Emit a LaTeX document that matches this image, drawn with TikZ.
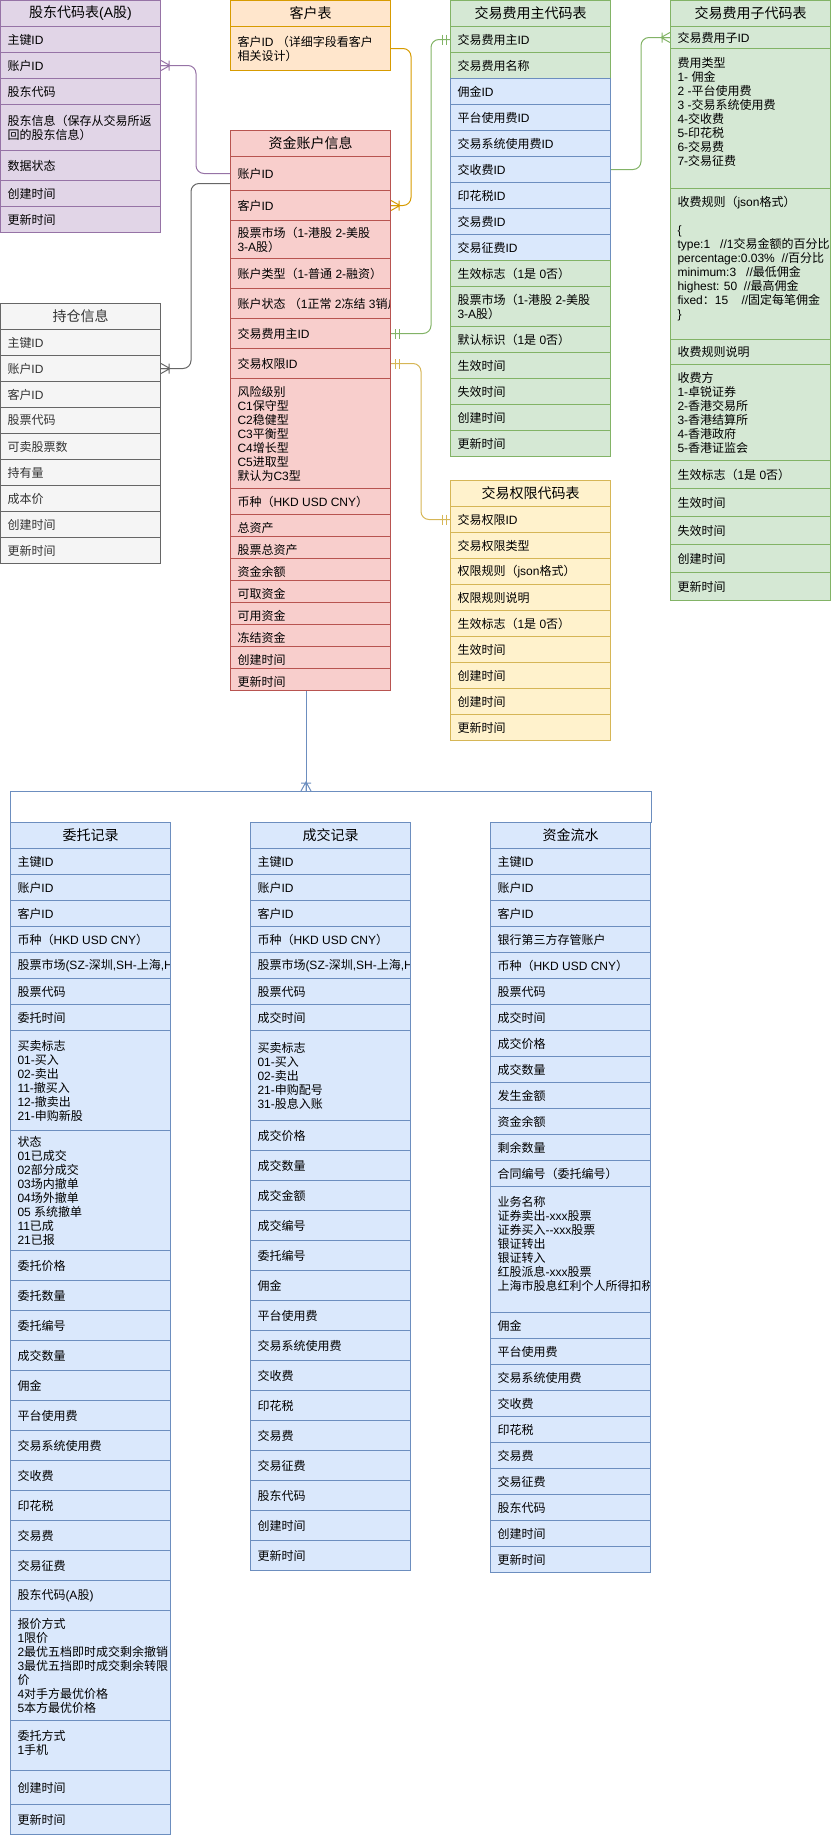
\documentclass[tikz,border=0pt]{standalone}
\usepackage{fontspec}
\setmainfont{Liberation Sans}
\newfontfamily\cjkf{Noto Sans CJK SC}
\newfontfamily\latf{Liberation Sans}
\newXeTeXintercharclass\CJKcls
\newcount\cjkc
\def\setcjkrange#1#2{\cjkc=#1\relax\loop\XeTeXcharclass\cjkc=\CJKcls\advance\cjkc by 1\relax\ifnum\cjkc<#2\repeat}
\setcjkrange{"4E00}{"A000}
\setcjkrange{"3000}{"3040}
\setcjkrange{"FF00}{"FFF0}
\XeTeXinterchartoks 0 \CJKcls = {\cjkf}
\XeTeXinterchartoks 4095 \CJKcls = {\cjkf}
\XeTeXinterchartoks \CJKcls 0 = {\latf}
\XeTeXinterchartoks \CJKcls 4095 = {\latf}
\XeTeXinterchartokenstate=1

\definecolor{pF}{HTML}{E1D5E7}\definecolor{pD}{HTML}{9673A6}
\definecolor{oF}{HTML}{FFE6CC}\definecolor{oD}{HTML}{D79B00}
\definecolor{rF}{HTML}{F8CECC}\definecolor{rD}{HTML}{B85450}
\definecolor{gF}{HTML}{D5E8D4}\definecolor{gD}{HTML}{82B366}
\definecolor{bF}{HTML}{DAE8FC}\definecolor{bD}{HTML}{6C8EBF}
\definecolor{yF}{HTML}{FFF2CC}\definecolor{yD}{HTML}{D6B656}
\definecolor{kF}{HTML}{F5F5F5}\definecolor{kD}{HTML}{666666}
\definecolor{kT}{HTML}{333333}

\newcommand\erTab[5]{%
  \xdef\curx{#2}\xdef\cury{#3}\xdef\curw{#4}%
  \node[hdbox, minimum width=#4pt, minimum height=26pt, anchor=north west] (#1) at (#2,#3) {#5};%
  \pgfmathsetmacro\tmpy{#3+26}\xdef\cury{\tmpy}}
\newcommand\erRow[4][]{%
  \node[rowbox, minimum width=\curw pt, minimum height=#3pt, anchor=north west] (#2) at (\curx,\cury) {};%
  \begin{scope}
    \clip ([xshift=1pt]#2.north west) rectangle ([xshift=-2pt]#2.south east);
    \node[rowtext, #1] (#2t) at (#2.west) {#4};
  \end{scope}%
  \pgfmathsetmacro\tmpy{\cury+#3}\xdef\cury{\tmpy}}
\newcommand\crowmark[3]{\begin{scope}[shift={(#1)}, rotate=#2]
  \draw[#3] (0,5) -- (9,0) -- (0,-5) (0,0) -- (9,0) (8,5) -- (8,-5);\end{scope}}
\newcommand\onemark[3]{\begin{scope}[shift={(#1)}, rotate=#2]
  \draw[#3] (4,5) -- (4,-5) (8,5) -- (8,-5);\end{scope}}

\begin{document}
\begin{tikzpicture}[x=1pt, y=-1pt, line width=1pt,
  cur/.style={}, curt/.style={},
  hdbox/.style={draw, inner sep=0pt, font=\fontsize{14}{16}\selectfont, cur, curt},
  rowbox/.style={draw, inner sep=0pt, cur},
  rowtext/.style={inner xsep=7pt, inner ysep=0pt, align=left, anchor=west,
    font=\fontsize{12}{14}\selectfont, curt},
  link/.style={rounded corners=8pt}]
\useasboundingbox (0,0) rectangle (831,1837);

% ---------- 股东代码表(A股)
\tikzset{cur/.style={fill=pF, draw=pD}, curt/.style={}}
\erTab{t1}{0}{0}{160}{股东代码表(A股)}
\erRow{t1a}{26}{主键ID}
\erRow{t1acc}{26}{账户ID}
\erRow{t1c}{26}{股东代码}
\erRow{t1d}{46}{股东信息（保存从交易所返\\回的股东信息）}
\erRow{t1e}{30}{数据状态}
\erRow{t1f}{26}{创建时间}
\erRow{t1g}{26}{更新时间}

% ---------- 客户表
\tikzset{cur/.style={fill=oF, draw=oD}}
\erTab{t2}{230}{0}{160}{客户表}
\erRow{t2a}{44}{客户ID （详细字段看客户\\相关设计）}

% ---------- 资金账户信息
\tikzset{cur/.style={fill=rF, draw=rD}}
\erTab{t3}{230}{130}{160}{资金账户信息}
\erRow{t3acc}{34}{账户ID}
\erRow{t3cid}{30}{客户ID}
\erRow{t3mkt}{38}{股票市场（1-港股 2-美股\\3-A股）}
\erRow{t3typ}{30}{账户类型（1-普通 2-融资）}
\erRow{t3st}{30}{账户状态 （1正常 2冻结 3销户）}
\erRow{t3fee}{30}{交易费用主ID}
\erRow{t3perm}{30}{交易权限ID}
\erRow{t3risk}{110}{风险级别\\C1保守型\\C2稳健型\\C3平衡型\\C4增长型\\C5进取型\\默认为C3型}
\erRow{t3cur}{26}{币种（HKD USD CNY）}
\erRow[yshift=-2pt]{t3a}{22}{总资产}
\erRow[yshift=-2pt]{t3b}{22}{股票总资产}
\erRow[yshift=-2pt]{t3c}{22}{资金余额}
\erRow[yshift=-2pt]{t3d}{22}{可取资金}
\erRow[yshift=-2pt]{t3e}{22}{可用资金}
\erRow[yshift=-2pt]{t3f}{22}{冻结资金}
\erRow[yshift=-2pt]{t3g}{22}{创建时间}
\erRow[yshift=-2pt]{t3upd}{22}{更新时间}

% ---------- 持仓信息
\tikzset{cur/.style={fill=kF, draw=kD}, curt/.style={text=kT}}
\erTab{t4}{0}{303}{160}{持仓信息}
\erRow{t4a}{26}{主键ID}
\erRow{t4acc}{26}{账户ID}
\erRow{t4c}{26}{客户ID}
\erRow{t4d}{26}{股票代码}
\erRow{t4e}{26}{可卖股票数}
\erRow{t4f}{26}{持有量}
\erRow{t4g}{26}{成本价}
\erRow{t4h}{26}{创建时间}
\erRow{t4i}{26}{更新时间}

% ---------- 交易费用主代码表
\tikzset{cur/.style={fill=gF, draw=gD}, curt/.style={}}
\erTab{t5}{450}{0}{160}{交易费用主代码表}
\erRow{t5id}{26}{交易费用主ID}
\erRow{t5nm}{26}{交易费用名称}
\tikzset{cur/.style={fill=bF, draw=bD}}
\erRow{t5yj}{26}{佣金ID}
\erRow{t5pt}{26}{平台使用费ID}
\erRow{t5xt}{26}{交易系统使用费ID}
\erRow{t5jsf}{26}{交收费ID}
\erRow{t5yh}{26}{印花税ID}
\erRow{t5jy}{26}{交易费ID}
\erRow{t5zf}{26}{交易征费ID}
\tikzset{cur/.style={fill=gF, draw=gD}}
\erRow{t5sx}{26}{生效标志（1是 0否）}
\erRow{t5mkt}{40}{股票市场（1-港股 2-美股\\3-A股）}
\erRow{t5mr}{26}{默认标识（1是 0否）}
\erRow{t5a}{26}{生效时间}
\erRow{t5b}{26}{失效时间}
\erRow{t5c}{26}{创建时间}
\erRow{t5d}{26}{更新时间}

% ---------- 交易费用子代码表
\erTab{t6}{670}{0}{160}{交易费用子代码表}
\erRow{t6id}{22}{交易费用子ID}
\erRow[yshift=7pt]{t6lx}{140}{费用类型\\1- 佣金\\2 -平台使用费\\3 -交易系统使用费\\4-交收费\\5-印花税\\6-交易费\\7-交易征费}
\erRow[yshift=5pt]{t6gz}{151}{收费规则（json格式）\\\mbox{}\\\{\\type:1\ \ \ //1交易金额的百分比\\percentage:0.03\%\ \ //百分比\\minimum:3\ \ \ //最低佣金\\highest: 50\ \ //最高佣金\\fixed：15\ \ \ \ //固定每笔佣金\\\}}
\erRow{t6sm}{25}{收费规则说明}
\erRow{t6sf}{96}{收费方\\1-卓锐证券\\2-香港交易所\\3-香港结算所\\4-香港政府\\5-香港证监会}
\erRow{t6sx}{28}{生效标志（1是 0否）}
\erRow{t6a}{28}{生效时间}
\erRow{t6b}{28}{失效时间}
\erRow{t6c}{28}{创建时间}
\erRow{t6d}{28}{更新时间}

% ---------- 交易权限代码表
\tikzset{cur/.style={fill=yF, draw=yD}}
\erTab{t7}{450}{480}{160}{交易权限代码表}
\erRow{t7id}{26}{交易权限ID}
\erRow{t7lx}{26}{交易权限类型}
\erRow{t7gz}{26}{权限规则（json格式）}
\erRow{t7sm}{26}{权限规则说明}
\erRow{t7sx}{26}{生效标志（1是 0否）}
\erRow{t7a}{26}{生效时间}
\erRow{t7b}{26}{创建时间}
\erRow{t7c}{26}{创建时间}
\erRow{t7d}{26}{更新时间}

% ---------- 委托记录
\tikzset{cur/.style={fill=bF, draw=bD}}
\erTab{t8}{10}{822}{160}{委托记录}
\erRow{t8a}{26}{主键ID}
\erRow{t8b}{26}{账户ID}
\erRow{t8c}{26}{客户ID}
\erRow{t8d}{26}{币种（HKD USD CNY）}
\erRow{t8e}{26}{股票市场(SZ-深圳,SH-上海,H}
\erRow{t8f}{26}{股票代码}
\erRow{t8g}{26}{委托时间}
\erRow{t8h}{100}{买卖标志\\01-买入\\02-卖出\\11-撤买入\\12-撤卖出\\21-申购新股}
\erRow{t8i}{120}{状态\\01已成交\\02部分成交\\03场内撤单\\04场外撤单\\05 系统撤单\\11已成\\21已报}
\erRow{t8j}{30}{委托价格}
\erRow{t8k}{30}{委托数量}
\erRow{t8l}{30}{委托编号}
\erRow{t8m}{30}{成交数量}
\erRow{t8n}{30}{佣金}
\erRow{t8o}{30}{平台使用费}
\erRow{t8p}{30}{交易系统使用费}
\erRow{t8q}{30}{交收费}
\erRow{t8r}{30}{印花税}
\erRow{t8s}{30}{交易费}
\erRow{t8t}{30}{交易征费}
\erRow{t8u}{30}{股东代码(A股)}
\erRow{t8v}{110}{报价方式\\1限价\\2最优五档即时成交剩余撤销\\3最优五挡即时成交剩余转限\\价\\4对手方最优价格\\5本方最优价格}
\erRow[yshift=3pt]{t8w}{50}{委托方式\\1手机}
\erRow{t8x}{34}{创建时间}
\erRow{t8y}{30}{更新时间}

% ---------- 成交记录
\erTab{t9}{250}{822}{160}{成交记录}
\erRow{t9a}{26}{主键ID}
\erRow{t9b}{26}{账户ID}
\erRow{t9c}{26}{客户ID}
\erRow{t9d}{26}{币种（HKD USD CNY）}
\erRow{t9e}{26}{股票市场(SZ-深圳,SH-上海,H}
\erRow{t9f}{26}{股票代码}
\erRow{t9g}{26}{成交时间}
\erRow{t9h}{90}{买卖标志\\01-买入\\02-卖出\\21-申购配号\\31-股息入账}
\erRow{t9i}{30}{成交价格}
\erRow{t9j}{30}{成交数量}
\erRow{t9k}{30}{成交金额}
\erRow{t9l}{30}{成交编号}
\erRow{t9m}{30}{委托编号}
\erRow{t9n}{30}{佣金}
\erRow{t9o}{30}{平台使用费}
\erRow{t9p}{30}{交易系统使用费}
\erRow{t9q}{30}{交收费}
\erRow{t9r}{30}{印花税}
\erRow{t9s}{30}{交易费}
\erRow{t9t}{30}{交易征费}
\erRow{t9u}{30}{股东代码}
\erRow{t9v}{30}{创建时间}
\erRow{t9w}{30}{更新时间}

% ---------- 资金流水
\erTab{t10}{490}{822}{160}{资金流水}
\erRow{t10a}{26}{主键ID}
\erRow{t10b}{26}{账户ID}
\erRow{t10c}{26}{客户ID}
\erRow{t10d}{26}{银行第三方存管账户}
\erRow{t10e}{26}{币种（HKD USD CNY）}
\erRow{t10f}{26}{股票代码}
\erRow{t10g}{26}{成交时间}
\erRow{t10h}{26}{成交价格}
\erRow{t10i}{26}{成交数量}
\erRow{t10j}{26}{发生金额}
\erRow{t10k}{26}{资金余额}
\erRow{t10l}{26}{剩余数量}
\erRow{t10m}{26}{合同编号（委托编号）}
\erRow[yshift=6pt]{t10n}{126}{业务名称\\证券卖出-xxx股票\\证券买入--xxx股票\\银证转出\\银证转入\\红股派息-xxx股票\\上海市股息红利个人所得扣税}
\erRow{t10o}{26}{佣金}
\erRow{t10p}{26}{平台使用费}
\erRow{t10q}{26}{交易系统使用费}
\erRow{t10r}{26}{交收费}
\erRow{t10s}{26}{印花税}
\erRow{t10t}{26}{交易费}
\erRow{t10u}{26}{交易征费}
\erRow{t10v}{26}{股东代码}
\erRow{t10w}{26}{创建时间}
\erRow{t10x}{26}{更新时间}

% ---------- group frame over the three record tables
\node[inner sep=0pt, minimum width=640pt, minimum height=31pt, anchor=north west] (grp) at (10,791) {};
\draw[bD] (grp.south west) -- (grp.north west) -- (grp.north east) -- (grp.south east);

% ---------- connectors
\draw[pD, link] (t1acc.east) -- ([xshift=35pt]t1acc.east) |- (t3acc.west);
\crowmark{t1acc.east}{0}{pD}
\draw[kD, link] (t4acc.east) -- ([xshift=30pt]t4acc.east) |- ([yshift=-10pt]t3acc.west);
\crowmark{t4acc.east}{0}{kD}
\draw[oD, link] (t2a.east) -- ([xshift=20pt]t2a.east) |- (t3cid.east);
\crowmark{t3cid.east}{0}{oD}
\draw[gD, link] (t3fee.east) -- ([xshift=40pt]t3fee.east) |- (t5id.west);
\onemark{t3fee.east}{0}{gD}
\onemark{t5id.west}{180}{gD}
\draw[gD, link] (t5jsf.east) -- ([xshift=30pt]t5jsf.east) |- (t6id.west);
\crowmark{t6id.west}{180}{gD}
\draw[yD, link] (t3perm.east) -- ([xshift=30pt]t3perm.east) |- (t7id.west);
\onemark{t3perm.east}{0}{yD}
\onemark{t7id.west}{180}{yD}
\coordinate (bt) at ([xshift=-4.5pt]t3upd.south);
\coordinate (bb) at (bt |- grp.north);
\draw[bD] (bt) -- (bb);
\crowmark{bb}{90}{bD}
\end{tikzpicture}
\end{document}
